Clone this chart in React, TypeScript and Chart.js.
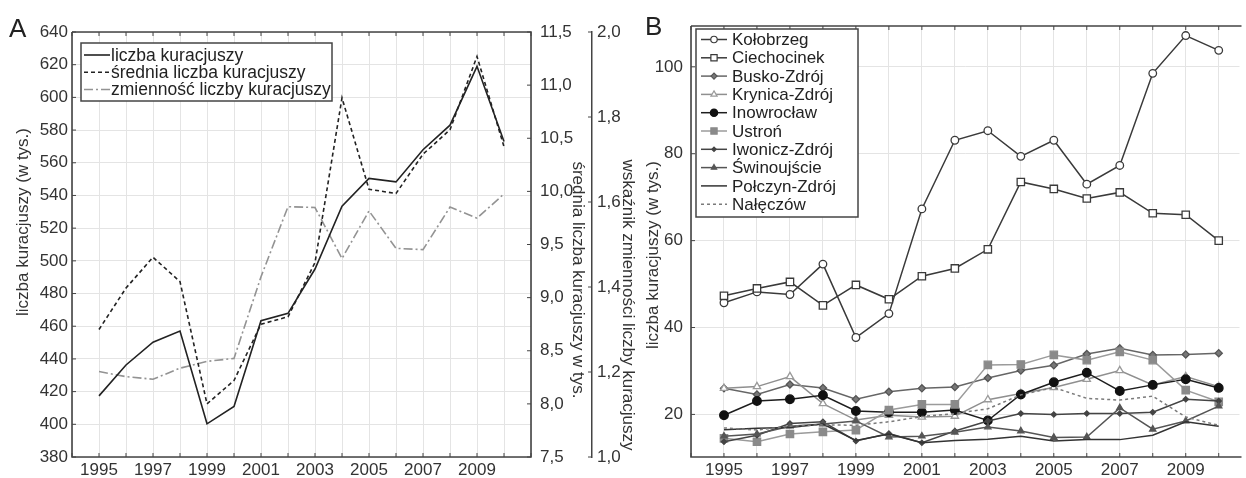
import React, { useEffect, useRef } from 'react';
import { Chart, registerables } from 'chart.js';
Chart.register(...registerables);

const FONT_FAMILY = '"Liberation Sans", Arial, Helvetica, sans-serif';
const TEXT = '#333333';
const FRAME = '#444444';
const GRID = '#e4e4e4';

// ---------- Panel A data ----------
const yearsA = [1995, 1996, 1997, 1998, 1999, 2000, 2001, 2002, 2003, 2004, 2005, 2006, 2007, 2008, 2009, 2010];
const liczbaKuracjuszy = [417.4, 436.3, 450.2, 457.1, 400.3, 410.9, 463.4, 467.9, 495, 533.5, 550.4, 548.3, 568, 583, 619, 573];
const sredniaLiczba = [8.7, 9.09, 9.38, 9.15, 8.0, 8.22, 8.75, 8.82, 9.33, 10.88, 10.02, 9.98, 10.35, 10.58, 11.27, 10.42];
const zmiennosc = [1.201, 1.189, 1.183, 1.209, 1.225, 1.232, 1.424, 1.589, 1.587, 1.467, 1.579, 1.491, 1.488, 1.588, 1.562, 1.619];
const xLabelLastA = 2009;

// ---------- Panel B data ----------
const yearsB = [1995, 1996, 1997, 1998, 1999, 2000, 2001, 2002, 2003, 2004, 2005, 2006, 2007, 2008, 2009, 2010];
const kolobrzeg = [45.7, 48.2, 47.6, 54.6, 37.7, 43.2, 67.3, 83.1, 85.3, 79.4, 83.1, 73.0, 77.3, 98.5, 107.2, 103.8];
const ciechocinek = [47.3, 49.0, 50.5, 45.1, 49.8, 46.5, 51.8, 53.6, 58.0, 73.5, 71.9, 69.7, 71.1, 66.3, 65.95, 60.0];
const buskoZdroj = [26.0, 24.6, 26.9, 26.1, 23.5, 25.2, 26.0, 26.3, 28.4, 30.1, 31.3, 33.9, 35.2, 33.7, 33.8, 34.1];
const krynicaZdroj = [26.0, 26.4, 28.7, 22.5, 18.7, 19.8, 19.4, 19.6, 23.4, 24.8, 26.2, 28.1, 30.1, 26.8, 28.7, 26.4];
const inowroclaw = [19.8, 23.1, 23.5, 24.4, 20.8, 20.5, 20.5, 21.0, 18.6, 24.6, 27.4, 29.6, 25.4, 26.8, 28.1, 26.1];
const ustron = [14.5, 13.7, 15.5, 16.0, 16.4, 21.0, 22.3, 22.3, 31.4, 31.5, 33.7, 32.5, 34.4, 32.5, 25.6, 22.9];
const iwoniczZdroj = [13.7, 15.2, 17.9, 18.3, 13.9, 15.6, 13.5, 16.2, 18.5, 20.2, 20.0, 20.2, 20.2, 20.5, 23.5, 23.1];
const swinoujscie = [15.0, 15.5, 17.3, 17.8, 18.5, 14.8, 15.0, 15.9, 17.1, 16.2, 14.7, 14.8, 21.5, 16.6, 18.5, 21.9];
const polczynZdroj = [16.5, 16.8, 17.0, 17.8, 14.0, 15.5, 13.5, 14.0, 14.3, 15.0, 13.9, 14.2, 14.2, 15.2, 18.3, 17.3];
const naleczow = [16.9, 16.4, 17.3, 17.6, 17.5, 18.3, 19.5, 20.2, 21.3, 24.5, 26.2, 23.7, 23.3, 24.2, 19.4, 17.5];
const xLabelLastB = 2009;

const pts = (xs: number[], ys: number[]) => xs.map((x, i) => ({ x, y: ys[i] }));
const font = (size: number) => ({ family: FONT_FAMILY, size });
const comma = (v: number) => Number(v).toFixed(1).replace('.', ',');

function drawMarker(ctx: CanvasRenderingContext2D, style: string, x: number, y: number, r: number, fill: string, stroke: string, lw: number) {
  if (!style || r <= 0) return;
  ctx.beginPath();
  if (style === 'circle') {
    ctx.arc(x, y, r, 0, Math.PI * 2);
  } else if (style === 'rect') {
    const s = Math.SQRT1_2 * r;
    ctx.rect(x - s, y - s, 2 * s, 2 * s);
  } else if (style === 'rectRot') {
    ctx.moveTo(x - r, y); ctx.lineTo(x, y - r); ctx.lineTo(x + r, y); ctx.lineTo(x, y + r); ctx.closePath();
  } else if (style === 'triangle') {
    let rad = 0;
    ctx.moveTo(x + Math.sin(rad) * r, y - Math.cos(rad) * r);
    rad += (2 * Math.PI) / 3;
    ctx.lineTo(x + Math.sin(rad) * r, y - Math.cos(rad) * r);
    rad += (2 * Math.PI) / 3;
    ctx.lineTo(x + Math.sin(rad) * r, y - Math.cos(rad) * r);
    ctx.closePath();
  }
  ctx.fillStyle = fill; ctx.fill();
  ctx.strokeStyle = stroke; ctx.lineWidth = lw; ctx.stroke();
}

function rotatedText(ctx: CanvasRenderingContext2D, text: string, x: number, y: number, angle: number, size: number) {
  ctx.save();
  ctx.translate(x, y);
  ctx.rotate(angle);
  ctx.font = `${size}px ${FONT_FAMILY}`;
  ctx.fillStyle = TEXT;
  ctx.textAlign = 'center';
  ctx.textBaseline = 'middle';
  ctx.fillText(text, 0, 0);
  ctx.restore();
}

function frameTicks(chart: any, sides: { right: boolean }) {
  const { ctx, chartArea: { left, right, top, bottom }, scales } = chart;
  ctx.save();
  ctx.strokeStyle = FRAME;
  ctx.lineWidth = 1.6;
  ctx.beginPath();
  ctx.moveTo(left, top); ctx.lineTo(left, bottom); ctx.lineTo(sides.right ? right : right + 2, bottom);
  if (sides.right) { ctx.lineTo(right, top); ctx.lineTo(left, top); }
  else { ctx.moveTo(left, top); ctx.lineTo(right + 2, top); }
  ctx.stroke();
  ctx.lineWidth = 1;
  ctx.beginPath();
  scales.x.ticks.forEach((t: any) => {
    const x = scales.x.getPixelForValue(t.value);
    ctx.moveTo(x, bottom); ctx.lineTo(x, bottom - 4);
    ctx.moveTo(x, top); ctx.lineTo(x, top + 4);
  });
  scales.y.ticks.forEach((t: any) => {
    const y = scales.y.getPixelForValue(t.value);
    ctx.moveTo(left, y); ctx.lineTo(left + 4, y);
  });
  if (scales.y1) {
    scales.y1.ticks.forEach((t: any) => {
      const y = scales.y1.getPixelForValue(t.value);
      ctx.moveTo(right, y); ctx.lineTo(right - 4, y);
    });
  }
  if (scales.y2) {
    const y2 = scales.y2;
    y2.ticks.forEach((t: any) => {
      const y = y2.getPixelForValue(t.value);
      ctx.moveTo(y2.left, y); ctx.lineTo(y2.left - 4, y);
    });
  }
  ctx.stroke();
  ctx.restore();
}

export default function App() {
  const refA = useRef<HTMLCanvasElement>(null);
  const refB = useRef<HTMLCanvasElement>(null);

  useEffect(() => {
    const pluginA = {
      id: 'decorA',
      beforeDatasetsDraw(chart: any) {
        frameTicks(chart, { right: true });
      },
      afterDraw(chart: any) {
        const ctx = chart.ctx as CanvasRenderingContext2D;
        ctx.save();
        ctx.font = `26px ${FONT_FAMILY}`;
        ctx.fillStyle = '#222';
        ctx.textBaseline = 'alphabetic';
        ctx.fillText('A', 9, 37);
        ctx.restore();
        rotatedText(ctx, 'liczba kuracjuszy (w tys.)', 23, 222, -Math.PI / 2, 17);
        rotatedText(ctx, 'średnia liczba kuracjuszy w tys.', 578, 280, Math.PI / 2, 17);
        rotatedText(ctx, 'wskaźnik zmienności liczby kuracjuszy', 628, 305, Math.PI / 2, 17);
        const bx = 81, by = 43, bw = 251, bh = 58;
        ctx.save();
        ctx.fillStyle = '#fff';
        ctx.fillRect(bx, by, bw, bh);
        ctx.strokeStyle = FRAME;
        ctx.lineWidth = 1.5;
        ctx.strokeRect(bx, by, bw, bh);
        chart.data.datasets.forEach((ds: any, i: number) => {
          const y = 55 + i * 17.25;
          ctx.beginPath();
          ctx.setLineDash(ds.borderDash || []);
          ctx.strokeStyle = ds.borderColor;
          ctx.lineWidth = ds.borderWidth;
          ctx.moveTo(84, y); ctx.lineTo(110, y);
          ctx.stroke();
          ctx.setLineDash([]);
          ctx.font = `17.5px ${FONT_FAMILY}`;
          ctx.fillStyle = '#222';
          ctx.textBaseline = 'middle';
          ctx.fillText(ds.label, 111, y + 1);
        });
        ctx.restore();
      },
    };

    const configA: any = {
      type: 'line',
      data: {
        datasets: [
          { label: 'liczba kuracjuszy', data: pts(yearsA, liczbaKuracjuszy), yAxisID: 'y', borderColor: '#222222', borderWidth: 1.6, pointRadius: 0, tension: 0 },
          { label: 'średnia liczba kuracjuszy', data: pts(yearsA, sredniaLiczba), yAxisID: 'y1', borderColor: '#222222', borderWidth: 1.6, borderDash: [4, 3], pointRadius: 0, tension: 0 },
          { label: 'zmienność liczby kuracjuszy', data: pts(yearsA, zmiennosc), yAxisID: 'y2', borderColor: '#939393', borderWidth: 1.6, borderDash: [9, 3, 2, 3], pointRadius: 0, tension: 0 },
        ],
      },
      options: {
        responsive: false,
        animation: false,
        layout: { padding: { top: 32, left: 0, right: 0, bottom: 0 } },
        plugins: { legend: { display: false }, tooltip: { enabled: false } },
        scales: {
          x: {
            type: 'linear', min: 1994, max: 2011,
            afterFit: (s: any) => { s.height = 21; },
            ticks: { stepSize: 1, autoSkip: false, maxRotation: 0, includeBounds: false, padding: 3, font: font(17), color: TEXT,
              callback: (v: number) => (v % 2 === 1 && v <= xLabelLastA ? String(v) : '') },
            grid: { color: GRID, drawTicks: false },
            border: { display: false },
          },
          y: {
            position: 'left', min: 380, max: 640,
            afterFit: (s: any) => { s.width = 72; },
            ticks: { stepSize: 20, padding: 4, font: font(17), color: TEXT },
            grid: { color: GRID, drawTicks: false },
            border: { display: false },
          },
          y1: {
            position: 'right', min: 7.5, max: 11.5, weight: 0,
            afterFit: (s: any) => { s.width = 61; },
            ticks: { stepSize: 0.5, padding: 9, font: font(17), color: TEXT, callback: (v: number) => comma(v) },
            grid: { display: false, drawTicks: false },
            border: { display: false },
          },
          y2: {
            position: 'right', min: 1, max: 2, weight: 1,
            afterFit: (s: any) => { s.width = 48; },
            ticks: { stepSize: 0.2, padding: 5, font: font(17), color: TEXT, callback: (v: number) => comma(v) },
            grid: { display: false, drawTicks: false },
            border: { display: true, color: FRAME, width: 1.5 },
          },
        },
      },
      plugins: [pluginA],
    };

    const seriesB = [
      { label: 'Kołobrzeg', data: kolobrzeg, color: '#3a3a3a', style: 'circle', r: 3.8, fill: '#ffffff', stroke: '#3a3a3a', dash: [] as number[] },
      { label: 'Ciechocinek', data: ciechocinek, color: '#3a3a3a', style: 'rect', r: 5.2, fill: '#ffffff', stroke: '#3a3a3a', dash: [] },
      { label: 'Busko-Zdrój', data: buskoZdroj, color: '#666666', style: 'rectRot', r: 3.6, fill: '#777777', stroke: '#555555', dash: [] },
      { label: 'Krynica-Zdrój', data: krynicaZdroj, color: '#8f8f8f', style: 'triangle', r: 4.2, fill: '#ffffff', stroke: '#9a9a9a', dash: [] },
      { label: 'Inowrocław', data: inowroclaw, color: '#1e1e1e', style: 'circle', r: 4.3, fill: '#111111', stroke: '#111111', dash: [] },
      { label: 'Ustroń', data: ustron, color: '#9b9b9b', style: 'rect', r: 5.2, fill: '#8a8a8a', stroke: '#8a8a8a', dash: [] },
      { label: 'Iwonicz-Zdrój', data: iwoniczZdroj, color: '#444444', style: 'rectRot', r: 2.6, fill: '#444444', stroke: '#444444', dash: [] },
      { label: 'Świnoujście', data: swinoujscie, color: '#555555', style: 'triangle', r: 3.6, fill: '#555555', stroke: '#555555', dash: [] },
      { label: 'Połczyn-Zdrój', data: polczynZdroj, color: '#333333', style: '', r: 0, fill: '#333333', stroke: '#333333', dash: [] },
      { label: 'Nałęczów', data: naleczow, color: '#7a7a7a', style: '', r: 0, fill: '#7a7a7a', stroke: '#7a7a7a', dash: [3, 3] },
    ];

    const pluginB = {
      id: 'decorB',
      beforeDatasetsDraw(chart: any) {
        frameTicks(chart, { right: false });
      },
      afterDraw(chart: any) {
        const ctx = chart.ctx as CanvasRenderingContext2D;
        ctx.save();
        ctx.font = `26px ${FONT_FAMILY}`;
        ctx.fillStyle = '#222';
        ctx.fillText('B', 5, 35);
        ctx.restore();
        rotatedText(ctx, 'liczba kuracjuszy (w tys.)', 13, 255, -Math.PI / 2, 17);
        const bx = 56, by = 29, bw = 162, bh = 188;
        ctx.save();
        ctx.fillStyle = '#fff';
        ctx.fillRect(bx, by, bw, bh);
        ctx.strokeStyle = FRAME;
        ctx.lineWidth = 1.5;
        ctx.strokeRect(bx, by, bw, bh);
        seriesB.forEach((s, i) => {
          const y = 39.5 + i * 18.3;
          ctx.beginPath();
          ctx.setLineDash(s.dash);
          ctx.strokeStyle = s.color;
          ctx.lineWidth = 1.5;
          ctx.moveTo(61, y); ctx.lineTo(87, y);
          ctx.stroke();
          ctx.setLineDash([]);
          drawMarker(ctx, s.style, 74, y, s.r * 0.85, s.fill, s.stroke, 1.2);
          ctx.font = `17px ${FONT_FAMILY}`;
          ctx.fillStyle = '#222';
          ctx.textBaseline = 'middle';
          ctx.fillText(s.label, 92, y + 1);
        });
        ctx.restore();
      },
    };

    const configB: any = {
      type: 'line',
      data: {
        datasets: seriesB.map((s) => ({
          label: s.label,
          data: pts(yearsB, s.data),
          borderColor: s.color,
          borderWidth: 1.5,
          borderDash: s.dash,
          pointStyle: s.style || 'circle',
          pointRadius: s.r,
          pointBackgroundColor: s.fill,
          pointBorderColor: s.stroke,
          pointBorderWidth: 1.3,
          tension: 0,
        })).reverse(),
      },
      options: {
        responsive: false,
        animation: false,
        layout: { padding: { top: 26, left: 0, right: 0, bottom: 0 } },
        plugins: { legend: { display: false }, tooltip: { enabled: false } },
        scales: {
          x: {
            type: 'linear', min: 1994, max: 2010.63,
            afterFit: (s: any) => { s.height = 21; },
            ticks: { stepSize: 1, autoSkip: false, maxRotation: 0, includeBounds: false, padding: 3, font: font(17), color: TEXT,
              callback: (v: number) => (v % 2 === 1 && v <= xLabelLastB ? String(v) : '') },
            grid: { color: GRID, drawTicks: false },
            border: { display: false },
          },
          y: {
            position: 'left', min: 10.2, max: 109.4,
            afterFit: (s: any) => { s.width = 51; },
            ticks: { stepSize: 20, includeBounds: false, padding: 8, font: font(17), color: TEXT },
            grid: { color: GRID, drawTicks: false },
            border: { display: false },
          },
        },
      },
      plugins: [pluginB],
    };

    const a = new Chart(refA.current as HTMLCanvasElement, configA);
    const b = new Chart(refB.current as HTMLCanvasElement, configB);
    return () => { a.destroy(); b.destroy(); };
  }, []);

  return (
    <div style={{ position: 'absolute', left: 0, top: 0, width: 1246, height: 478, background: '#ffffff', overflow: 'hidden' }}>
      <canvas ref={refA} width={640} height={478} style={{ position: 'absolute', left: 0, top: 0, width: 640, height: 478 }} />
      <canvas ref={refB} width={606} height={478} style={{ position: 'absolute', left: 640, top: 0, width: 606, height: 478 }} />
    </div>
  );
}
